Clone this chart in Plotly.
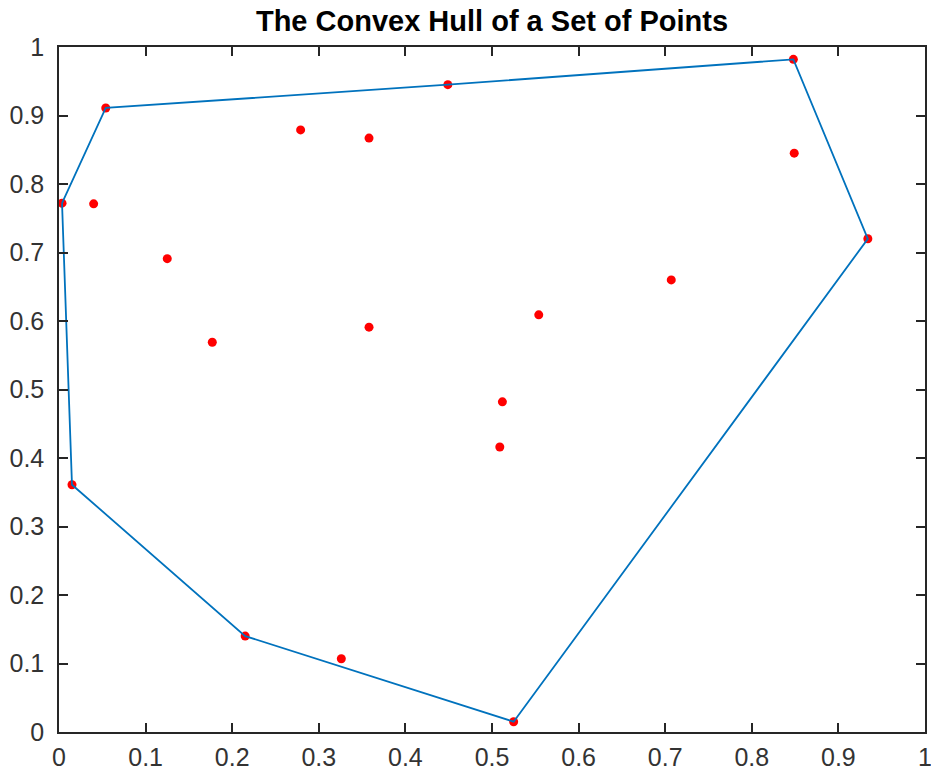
import plotly.graph_objects as go

# All points
px = [0.848, 0.934, 0.525, 0.215, 0.015, 0.0035, 0.054, 0.449,
      0.279, 0.358, 0.849, 0.040, 0.125, 0.177, 0.358, 0.554, 0.707, 0.512, 0.509, 0.326]
py = [0.982, 0.720, 0.015, 0.140, 0.361, 0.772, 0.911, 0.945,
      0.879, 0.867, 0.845, 0.771, 0.691, 0.569, 0.591, 0.609, 0.660, 0.482, 0.416, 0.107]

# Hull vertex indices (closed)
hull = [5, 6, 7, 0, 1, 2, 3, 4, 5]
hx = [px[i] for i in hull]
hy = [py[i] for i in hull]

tick_vals = [0, 0.1, 0.2, 0.3, 0.4, 0.5, 0.6, 0.7, 0.8, 0.9, 1]
tick_text = ["0", "0.1", "0.2", "0.3", "0.4", "0.5", "0.6", "0.7", "0.8", "0.9", "1"]

FONT = "Liberation Sans, Arial, sans-serif"

fig = go.Figure()
fig.add_trace(go.Scatter(x=px, y=py, mode="markers",
                         marker=dict(color="#FF0000", size=9), hoverinfo="skip"))
fig.add_trace(go.Scatter(x=hx, y=hy, mode="lines",
                         line=dict(color="#0072BD", width=1.8), hoverinfo="skip"))

axis_common = dict(range=[0, 1], tickvals=tick_vals, ticktext=tick_text,
                   showgrid=False, zeroline=False, showline=True, linecolor="#262626",
                   linewidth=1.5, mirror="ticks", ticks="inside", ticklen=9, tickwidth=1.5,
                   tickcolor="#262626", automargin=False, ticklabeloverflow="allow",
                   tickfont=dict(size=25, color="#333333", family=FONT))

fig.update_layout(
    width=931, height=776,
    margin=dict(l=59, r=6, t=47, b=44),
    paper_bgcolor="white", plot_bgcolor="white",
    showlegend=False,
    title=dict(text="<b>The Convex Hull of a Set of Points</b>", xref="paper", x=0.5,
               xanchor="center", yref="container", y=1 - 21 / 776, yanchor="middle",
               font=dict(size=29, color="#000000", family=FONT)),
    xaxis=dict(**axis_common, ticklabelstandoff=2),
    yaxis=dict(**axis_common, ticklabelstandoff=8),
)

fig.write_html("out.html", config={"displayModeBar": False},
               post_script="document.body.style.margin='0px';document.body.style.overflow='hidden';")
